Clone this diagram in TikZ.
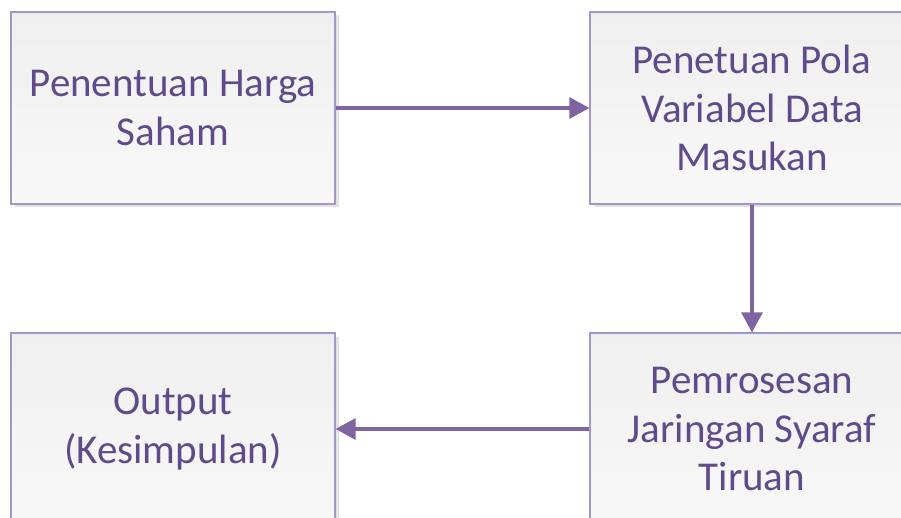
\documentclass[tikz,border=0pt]{standalone}
\usepackage{fontspec}
\setmainfont{Carlito}
\usetikzlibrary{arrows.meta,shadows}
\definecolor{txt}{HTML}{5F4B8B}
\definecolor{brd}{HTML}{A496C8}
\definecolor{arr}{HTML}{8064A2}
\tikzset{
  box/.style={draw=brd, line width=1.3pt, top color={rgb,255:red,239;green,239;blue,239}, bottom color={rgb,255:red,248;green,248;blue,248},
    minimum width=324pt, minimum height=192pt, inner sep=0pt, align=center,
    text=txt, font=\fontsize{41}{48.5}\selectfont,
    drop shadow={shadow xshift=3.5pt, shadow yshift=-3.5pt, fill={rgb,255:red,226;green,226;blue,226}, opacity=1}},
  conn/.style={draw=arr, line width=3.2pt, -{Triangle[length=20pt,width=21pt]}}
}
\begin{document}
\begin{tikzpicture}[x=1pt,y=-1pt]
\useasboundingbox (0,0) rectangle (901,518);
\clip (0,0) rectangle (901,518);
\fill[white] (0,0) rectangle (901,518);
\node[box] (tl) at (173,108) {Penentuan Harga\\Saham};
\node[box] (tr) at (752,108) {Penetuan Pola\\Variabel Data\\Masukan};
\node[box] (br) at (752,429) {Pemrosesan\\Jaringan Syaraf\\Tiruan};
\node[box] (bl) at (173,429) {Output\\(Kesimpulan)};
\draw[conn] (tl.east) -- (tr.west);
\draw[conn] (tr.south) -- (br.north);
\draw[conn] (br.west) -- (bl.east);
\end{tikzpicture}
\end{document}
